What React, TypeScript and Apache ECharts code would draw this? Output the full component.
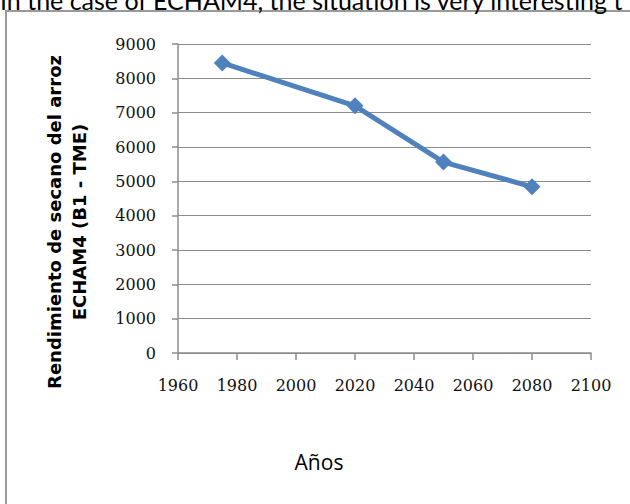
import React, { useEffect, useRef } from "react";
import * as echarts from "echarts";

const years = [1975, 2020, 2050, 2080];
const yields = [8450, 7200, 5560, 4840];
const yTitle = ["Rendimiento de secano del arroz", "ECHAM4 (B1 - TME)"];
const xTitle = "Años";
const captionText = "In the case of ECHAM4, the situation is very interesting t";

export default function App() {
  const ref = useRef<HTMLDivElement>(null);
  useEffect(() => {
    document.body.style.margin = "0";
    const chart = echarts.init(ref.current!, undefined, { renderer: "svg" });
    chart.setOption({
      animation: false,
      backgroundColor: "#fff",
      grid: { left: 178, top: 44, right: 39, bottom: 151 },
      xAxis: {
        type: "value",
        min: 1960,
        max: 2100,
        interval: 20,
        axisLine: { show: true, onZero: false, lineStyle: { color: "#8c8c8c", width: 1.5 } },
        axisTick: { show: true, length: 7, lineStyle: { color: "#8c8c8c", width: 1.5 } },
        splitLine: { show: false },
        axisLabel: {
          margin: 24,
          color: "#111",
          fontFamily: "DejaVu Serif",
          fontSize: 16,
          formatter: (v: number) => String(v),
        },
      },
      yAxis: {
        type: "value",
        min: 0,
        max: 9000,
        interval: 1000,
        axisLine: { show: true, lineStyle: { color: "#8c8c8c", width: 1.5 } },
        axisTick: { show: true, length: 6, lineStyle: { color: "#8c8c8c", width: 1.5 } },
        splitLine: { show: true, lineStyle: { color: "#8c8c8c", width: 1.2 } },
        axisLabel: {
          margin: 22,
          color: "#111",
          fontFamily: "DejaVu Serif",
          fontSize: 16,
          formatter: (v: number) => String(v),
        },
      },
      series: [
        {
          type: "line",
          data: years.map((y, i) => [y, yields[i]]),
          symbol: "diamond",
          symbolSize: 17,
          itemStyle: { color: "#4F81BD" },
          lineStyle: { color: "#4F81BD", width: 5 },
        },
      ],
      graphic: [
        {
          type: "rect",
          shape: { x: 6, y: 11, width: 700, height: 600 },
          style: { fill: "none", stroke: "#999", lineWidth: 2 },
          z: -1,
        },
        {
          type: "text",
          x: 0,
          y: -13,
          style: {
            text: captionText,
            font: "25px Lato",
            fill: "#000",
            textAlign: "left",
            textVerticalAlign: "top",
          },
        },
        {
          type: "text",
          x: 67,
          y: 222,
          rotation: Math.PI / 2,
          style: {
            text: yTitle.join("\n"),
            font: "bold 18px 'DejaVu Sans'",
            lineHeight: 25,
            fill: "#000",
            textAlign: "center",
            textVerticalAlign: "middle",
          },
        },
        {
          type: "text",
          x: 319,
          y: 462,
          style: {
            text: xTitle,
            font: "21px 'Open Sans'",
            fill: "#000",
            textAlign: "center",
            textVerticalAlign: "middle",
          },
        },
      ],
    });
    return () => chart.dispose();
  }, []);
  return <div ref={ref} style={{ width: 630, height: 504 }} />;
}
